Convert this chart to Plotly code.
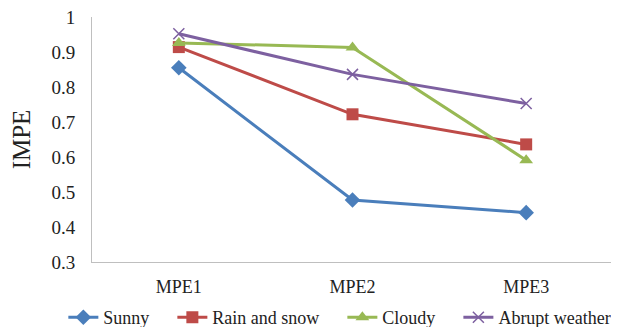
import plotly.graph_objects as go

categories = ["MPE1", "MPE2", "MPE3"]
series_names = ["Sunny", "Rain and snow", "Cloudy", "Abrupt weather"]
sunny = [0.855, 0.477, 0.441]
rain_snow = [0.914, 0.722, 0.636]
cloudy = [0.926, 0.913, 0.591]
abrupt = [0.952, 0.836, 0.753]
y_ticks = [0.3, 0.4, 0.5, 0.6, 0.7, 0.8, 0.9, 1.0]
y_tick_labels = ["0.3", "0.4", "0.5", "0.6", "0.7", "0.8", "0.9", "1"]

styles = [
    ("#4A7EBB", "diamond", 12),
    ("#BE4B48", "square", 12),
    ("#98B954", "triangle-up", 12),
    ("#7D60A0", "x-thin", 11),
]
values = [sunny, rain_snow, cloudy, abrupt]

fig = go.Figure()
for i, (name, vals, (color, sym, size)) in enumerate(zip(series_names, values, styles)):
    marker = dict(symbol=sym, size=size, color=color)
    if sym == "x-thin":
        marker["line"] = dict(color=color, width=1.5)
    pad = "\u00a0" * 4 if i < len(series_names) - 1 else ""
    fig.add_trace(go.Scatter(
        x=categories, y=vals, name=name + pad, mode="lines+markers",
        line=dict(color=color, width=3), marker=marker,
    ))

ff = "Liberation Serif"
# page body adds an 8px offset, so the figure is 8px smaller in each direction
fig.update_layout(
    width=611, height=319,
    margin=dict(l=84, r=6, t=9, b=65, autoexpand=False),
    paper_bgcolor="white", plot_bgcolor="white",
    font=dict(family=ff, size=17, color="#222222"),
    showlegend=True,
    legend=dict(orientation="h", x=-0.055, xanchor="left", y=-0.151, yanchor="top",
                font=dict(family=ff, size=18), itemwidth=30, tracegroupgap=0,
                bgcolor="rgba(0,0,0,0)"),
)
fig.update_xaxes(
    type="category", range=[-0.5, 2.5], showgrid=False, automargin=False,
    showline=True, linecolor="#BFBFBF", linewidth=1, ticks="", ticklabelstandoff=8,
    tickfont=dict(family=ff, size=18, color="#222222"),
)
fig.update_yaxes(
    range=[0.3, 1.0], tickvals=y_ticks, ticktext=y_tick_labels, showgrid=False,
    automargin=False, ticklabeloverflow="allow",
    showline=True, linecolor="#BFBFBF", linewidth=1, ticks="", ticklabelstandoff=12,
    zeroline=False, tickfont=dict(family=ff, size=19, color="#222222"),
    title=dict(text="IMPE", font=dict(family=ff, size=25, color="#222222"), standoff=19),
)
fig.write_html("out.html")
